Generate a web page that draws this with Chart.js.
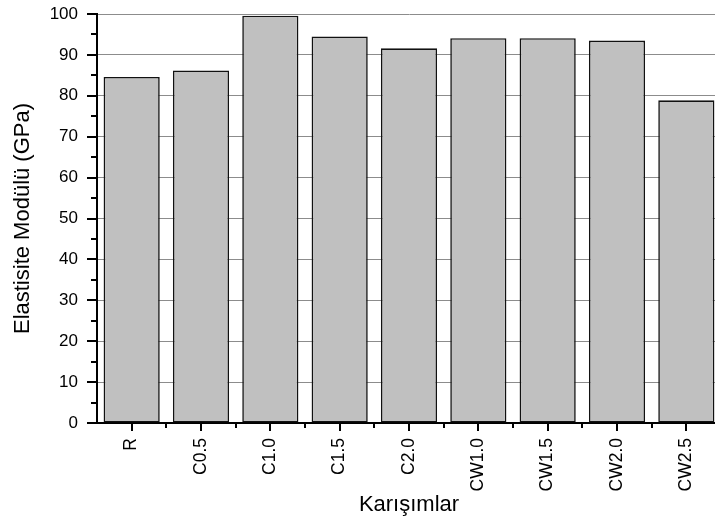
<!DOCTYPE html>
<html>
<head>
<meta charset="utf-8">
<script src="https://cdn.jsdelivr.net/npm/chart.js@4/dist/chart.umd.min.js"></script>
<style>
  html, body { margin: 0; padding: 0; background: #ffffff; overflow: hidden; }
  #chart { display: block; }
</style>
</head>
<body>
<canvas id="chart" width="721" height="522"></canvas>
<script>
// Mixture designations and their modulus of elasticity (GPa)
const mixtures = ['R', 'C0.5', 'C1.0', 'C1.5', 'C2.0', 'CW1.0', 'CW1.5', 'CW2.0', 'CW2.5'];
const modulusGPa = [84.6, 86.2, 99.6, 94.5, 91.6, 94.1, 94.1, 93.5, 78.9];
const yTickValues = [0, 10, 20, 30, 40, 50, 60, 70, 80, 90, 100];

const FONT = 'Arial, "Liberation Sans", Helvetica, sans-serif';

// Draws outward major/minor tick marks on both axes
const axisTicks = {
  id: 'axisTicks',
  afterDraw(chart) {
    const { ctx, scales: { x, y }, chartArea } = chart;
    ctx.save();
    ctx.strokeStyle = '#000';
    ctx.lineWidth = 2;
    ctx.beginPath();
    // y axis: major every 10, minor every 5
    for (let v = 0; v <= 100; v += 5) {
      const py = Math.round(y.getPixelForValue(v));
      const len = (v % 10 === 0) ? 10 : 6;
      ctx.moveTo(chartArea.left, py);
      ctx.lineTo(chartArea.left - len, py);
    }
    // x axis: major at category centres, minor at category boundaries
    const step = x.getPixelForValue(1) - x.getPixelForValue(0);
    for (let i = 0; i < mixtures.length; i++) {
      const cx = Math.round(x.getPixelForValue(i));
      ctx.moveTo(cx, chartArea.bottom);
      ctx.lineTo(cx, chartArea.bottom + 8);
      const bx = Math.round(x.getPixelForValue(i) + step / 2);
      ctx.moveTo(bx, chartArea.bottom);
      ctx.lineTo(bx, chartArea.bottom + 5);
    }
    ctx.stroke();
    ctx.restore();
  }
};

new Chart(document.getElementById('chart'), {
  type: 'bar',
  data: {
    labels: mixtures,
    datasets: [{
      data: modulusGPa,
      backgroundColor: '#c0c0c0',
      borderColor: '#111111',
      borderWidth: 1.6,
      borderSkipped: false,
      barPercentage: 0.81,
      categoryPercentage: 1.0
    }]
  },
  options: {
    responsive: false,
    animation: false,
    devicePixelRatio: 1,
    layout: { padding: { top: 14, left: 0, right: 0, bottom: 0 } },
    plugins: {
      legend: { display: false },
      tooltip: { enabled: false }
    },
    scales: {
      x: {
        offset: true,
        grid: { display: false, drawTicks: false },
        border: { display: true, color: '#000', width: 2 },
        ticks: {
          color: '#000',
          font: { family: FONT, size: 17.5 },
          minRotation: 90,
          maxRotation: 90,
          padding: 15,
          autoSkip: false
        },
        title: {
          display: true,
          text: 'Karışımlar',
          color: '#000',
          font: { family: FONT, size: 22 },
          padding: { top: 0, bottom: 4 }
        },
        afterFit(scale) {
          scale.height = 99;
          scale.paddingLeft = 0;
          scale.paddingRight = 0;
        }
      },
      y: {
        min: 0,
        max: 100,
        afterBuildTicks(scale) {
          scale.ticks = yTickValues.map(v => ({ value: v }));
        },
        grid: {
          drawTicks: false,
          lineWidth: 1,
          color: ctx => (ctx.tick && ctx.tick.value === 0) ? 'rgba(0,0,0,0)' : '#8c8c8c'
        },
        border: { display: true, color: '#000', width: 2 },
        ticks: {
          color: '#000',
          font: { family: FONT, size: 17 },
          padding: 19
        },
        title: {
          display: true,
          text: 'Elastisite Modülü (GPa)',
          color: '#000',
          font: { family: FONT, size: 22 },
          padding: { top: 10, bottom: 0 }
        },
        afterFit(scale) {
          scale.width = 97;
          scale.paddingTop = 0;
          scale.paddingBottom = 0;
        }
      }
    }
  },
  plugins: [axisTicks]
});
</script>
</body>
</html>
